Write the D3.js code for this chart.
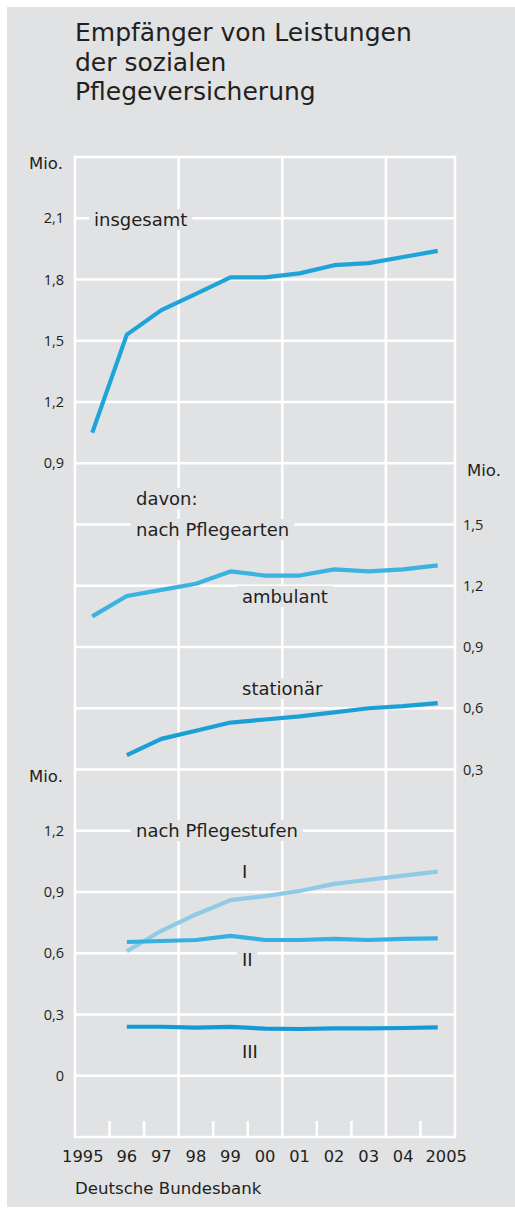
<!DOCTYPE html>
<html>
<head>
<meta charset="utf-8">
<script src="https://cdn.jsdelivr.net/npm/d3@7"></script>
<style>
    html, body { margin: 0; padding: 0; background: #fff; }
    svg { display: block; font-family: "DejaVu Sans", sans-serif; }
</style>
</head>
<body>
<div id="svgContainer"></div>
<script>
// data (Mio. Empfänger, Jahresdurchschnitt)
const years = [1995, 1996, 1997, 1998, 1999, 2000, 2001, 2002, 2003, 2004, 2005];
const yearLabels = ["1995", "96", "97", "98", "99", "00", "01", "02", "03", "04", "2005"];

const insgesamt = [1.05, 1.53, 1.65, 1.73, 1.81, 1.81, 1.83, 1.87, 1.88, 1.91, 1.94];
const ambulant  = [1.05, 1.15, 1.18, 1.21, 1.27, 1.25, 1.25, 1.28, 1.27, 1.28, 1.30];
const stationaer = [null, 0.37, 0.45, 0.49, 0.53, 0.545, 0.56, 0.58, 0.60, 0.61, 0.625];
const stufe1 = [null, 0.61, 0.71, 0.79, 0.86, 0.88, 0.905, 0.94, 0.96, 0.98, 1.00];
const stufe2 = [null, 0.655, 0.66, 0.665, 0.685, 0.665, 0.665, 0.67, 0.665, 0.67, 0.673];
const stufe3 = [null, 0.24, 0.24, 0.236, 0.239, 0.231, 0.229, 0.232, 0.232, 0.234, 0.237];

const ticksTop = [0.9, 1.2, 1.5, 1.8, 2.1];
const ticksMid = [0.3, 0.6, 0.9, 1.2, 1.5];
const ticksBottom = [0, 0.3, 0.6, 0.9, 1.2];
const majorYears = [1995, 1998, 2001, 2004];

class PflegeChart {

    constructor() {
        this._width = 515;
        this._height = 1208;
        this._ink = "#231f20";
        this._bg = "#e1e2e4";
        this._initSVG()
            ._scales()
            ._background()
            ._grid()
            ._axes()
            ._labels()
            ._lines();
    }

    _initSVG() {
        this._svg = d3.select("#svgContainer").append("svg")
            .attr("width", this._width)
            .attr("height", this._height);
        return this;
    }

    _scales() {
        const left = 75, right = 455, top = 157, bottom = 1137;
        const unit = (bottom - top) / 4.8;   // px per Mio.
        this._left = left; this._right = right; this._top = top; this._bottom = bottom;

        this._x = d3.scaleBand().domain(years).range([left, right]).padding(0);
        const midTop = top + 1.5 * unit;
        const botTop = midTop + 1.5 * unit;
        this._yTop = d3.scaleLinear().domain([0.9, 2.4]).range([midTop, top]);
        this._yMid = d3.scaleLinear().domain([0.3, 1.8]).range([botTop, midTop]);
        this._yBot = d3.scaleLinear().domain([-0.3, 1.5]).range([bottom, botTop]);

        const de = d3.formatLocale({decimal: ",", thousands: ".", grouping: [3], currency: ["", " €"]});
        const f = de.format(".1f");
        this._fmt = v => v === 0 ? "0" : f(v);
        return this;
    }

    _background() {
        this._svg.append("rect")
            .attr("x", 7).attr("y", 7)
            .attr("width", this._width - 7).attr("height", this._height - 8)
            .attr("fill", this._bg);

        this._svg.append("g").selectAll("text")
            .data(["Empfänger von Leistungen", "der sozialen", "Pflegeversicherung"])
            .enter().append("text")
            .attr("x", 75)
            .attr("y", (d, i) => 41 + i * 29.5)
            .attr("font-size", 25)
            .attr("fill", this._ink)
            .text(d => d);

        this._svg.append("text")
            .attr("x", 75).attr("y", 1194)
            .attr("font-size", 16.6)
            .attr("fill", this._ink)
            .text("Deutsche Bundesbank");
        return this;
    }

    _grid() {
        const g = this._svg.append("g")
            .attr("stroke", "#fff")
            .attr("stroke-width", 2.6);

        const hLines = ticksTop.map(v => this._yTop(v))
            .concat(ticksMid.map(v => this._yMid(v)))
            .concat(ticksBottom.map(v => this._yBot(v)))
            .concat([this._top, this._bottom]);
        g.selectAll("line.h")
            .data(hLines)
            .enter().append("line")
            .attr("x1", this._left).attr("x2", this._right)
            .attr("y1", d => d).attr("y2", d => d);

        const vLines = majorYears.map(y => this._x(y)).concat([this._right]);
        g.selectAll("line.v")
            .data(vLines)
            .enter().append("line")
            .attr("x1", d => d).attr("x2", d => d)
            .attr("y1", this._top - 1.3).attr("y2", this._bottom + 1.3);

        // kleine Jahresmarken
        g.selectAll("line.minor")
            .data(years.filter(y => majorYears.indexOf(y) < 0))
            .enter().append("line")
            .attr("x1", d => this._x(d)).attr("x2", d => this._x(d))
            .attr("y1", this._bottom - 16).attr("y2", this._bottom);
        return this;
    }

    _styleAxis(sel) {
        sel.select(".domain").remove();
        sel.selectAll("text").attr("fill", this._ink);
    }

    _axes() {
        const top = this._svg.append("g")
            .attr("transform", "translate(" + (this._left - 11) + ",0)")
            .call(d3.axisLeft(this._yTop).tickValues(ticksTop).tickSize(0).tickPadding(0).tickFormat(this._fmt));
        const bot = this._svg.append("g")
            .attr("transform", "translate(" + (this._left - 11) + ",0)")
            .call(d3.axisLeft(this._yBot).tickValues(ticksBottom).tickSize(0).tickPadding(0).tickFormat(this._fmt));
        const mid = this._svg.append("g")
            .attr("transform", "translate(" + (this._right + 8) + ",0)")
            .call(d3.axisRight(this._yMid).tickValues(ticksMid).tickSize(0).tickPadding(0).tickFormat(this._fmt));
        [top, bot, mid].forEach(a => {
            this._styleAxis(a);
            a.selectAll("text")
                .attr("font-family", "Open Sans, sans-serif")
                .attr("font-size", 14.5);
        });

        const xAxis = this._svg.append("g")
            .attr("transform", "translate(0," + (this._bottom + 10) + ")")
            .call(d3.axisBottom(this._x).tickSize(0).tickPadding(0)
                .tickFormat((d, i) => yearLabels[i]));
        this._styleAxis(xAxis);
        xAxis.selectAll("text")
            .attr("font-family", "DejaVu Sans, sans-serif")
            .attr("font-size", 16.3)
            .attr("dy", "0.95em");
        const bw = this._x.bandwidth();
        xAxis.selectAll("text")
            .filter(d => d === years[0])
            .attr("text-anchor", "end")
            .attr("x", bw / 2 - 6);
        xAxis.selectAll("text")
            .filter(d => d === years[years.length - 1])
            .attr("text-anchor", "start")
            .attr("x", -bw / 2 + 5);

        // Einheiten
        const unit = [
            {x: 29, y: 169, t: "Mio."},
            {x: 467, y: 476, t: "Mio."},
            {x: 29, y: 782, t: "Mio."}
        ];
        this._svg.append("g").selectAll("text")
            .data(unit)
            .enter().append("text")
            .attr("x", d => d.x).attr("y", d => d.y)
            .attr("font-size", 16.5)
            .attr("fill", this._ink)
            .text(d => d.t);
        return this;
    }

    _labels() {
        const labels = [
            {t: "insgesamt", x: 94, y: 226},
            {t: "davon:", x: 136, y: 505},
            {t: "nach Pflegearten", x: 136, y: 536},
            {t: "ambulant", x: 242, y: 603},
            {t: "stationär", x: 242, y: 695},
            {t: "nach Pflegestufen", x: 136, y: 837},
            {t: "I", x: 242, y: 878},
            {t: "II", x: 242, y: 966},
            {t: "III", x: 242, y: 1058}
        ];
        const bg = this._bg;
        const items = this._svg.append("g").selectAll("g")
            .data(labels)
            .enter().append("g");
        const texts = items.append("text")
            .attr("x", d => d.x).attr("y", d => d.y)
            .attr("font-size", 18)
            .attr("fill", this._ink)
            .text(d => d.t);
        // Hintergrund hinter die Beschriftung (Gitter aussparen)
        texts.each(function () {
            const b = this.getBBox();
            d3.select(this.parentNode).insert("rect", "text")
                .attr("x", b.x - 5).attr("y", b.y)
                .attr("width", b.width + 10).attr("height", b.height)
                .attr("fill", bg);
        });
        return this;
    }

    _lines() {
        const series = [
            {values: insgesamt, y: this._yTop, color: "#1fa4da"},
            {values: ambulant, y: this._yMid, color: "#3ab3e0"},
            {values: stationaer, y: this._yMid, color: "#1a9fd7"},
            {values: stufe1, y: this._yBot, color: "#8fcbe7"},
            {values: stufe2, y: this._yBot, color: "#35b0df"},
            {values: stufe3, y: this._yBot, color: "#1599d5"}
        ];
        const bw = this._x.bandwidth();
        const g = this._svg.append("g").attr("fill", "none");
        series.forEach(s => {
            const line = d3.line()
                .defined(d => d !== null)
                .x((d, i) => this._x(years[i]) + bw / 2)
                .y(d => s.y(d));
            g.append("path")
                .datum(s.values)
                .attr("d", line)
                .attr("stroke", s.color)
                .attr("stroke-width", 4.2)
                .attr("stroke-linejoin", "round");
        });
        return this;
    }
}

new PflegeChart();
</script>
</body>
</html>
